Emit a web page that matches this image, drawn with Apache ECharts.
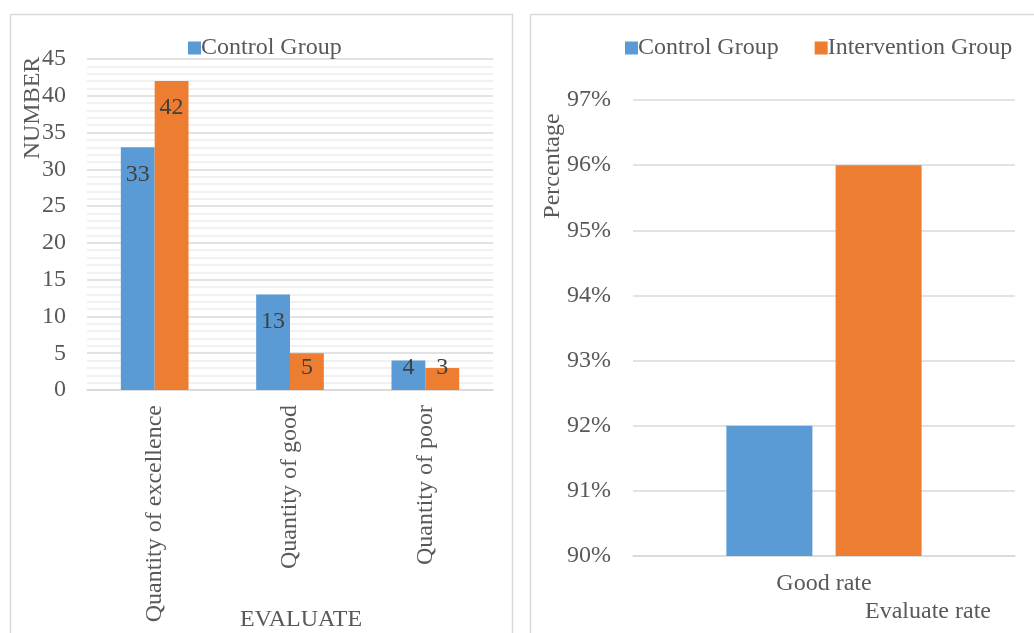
<!DOCTYPE html>
<html>
<head>
<meta charset="utf-8">
<script src="https://cdn.jsdelivr.net/npm/echarts@6/dist/echarts.min.js"></script>
<style>
  html, body { margin: 0; padding: 0; background: #fff; }
  #chart { width: 1034px; height: 633px; }
</style>
</head>
<body>
<div id="chart"></div>
<script>
// left chart data
const categories = ['Quantity of excellence', 'Quantity of good', 'Quantity of poor'];
const controlCounts = [33, 13, 4];
const interventionCounts = [42, 5, 3];
// right chart data
const rateCategories = ['Good rate'];
const controlRate = [92];
const interventionRate = [96];

const FONT = '"Liberation Serif", "Times New Roman", serif';
const FS = 24;
const TXT = '#595959';
const BLUE = '#5b9bd5';
const ORANGE = '#ed7d31';

// small bars get their label near the base, as Excel does
function withLabels(values) {
  return values.map(v => v < 8
    ? { value: v, label: { position: 'insideBottom', distance: 10 } }
    : { value: v });
}

const barLabel = {
  show: true,
  position: 'insideTop',
  distance: 15,
  color: '#404040',
  fontFamily: FONT,
  fontSize: FS
};

const chart = echarts.init(document.getElementById('chart'));

chart.setOption({
  animation: false,
  textStyle: { fontFamily: FONT },
  graphic: [
    { type: 'rect', shape: { x: 10.5, y: 14.5, width: 502, height: 640 },
      style: { fill: 'none', stroke: '#d9d9d9', lineWidth: 1.5 }, z: -10 },
    { type: 'rect', shape: { x: 530.5, y: 14.5, width: 520, height: 640 },
      style: { fill: 'none', stroke: '#d9d9d9', lineWidth: 1.5 }, z: -10 },
    { type: 'text', x: 33, y: 108, rotation: Math.PI / 2,
      style: { text: 'NUMBER', fill: TXT, font: FS + 'px ' + FONT, align: 'center', verticalAlign: 'middle' } },
    { type: 'text', x: 301, y: 620,
      style: { text: 'EVALUATE', fill: TXT, font: FS + 'px ' + FONT, align: 'center', verticalAlign: 'middle' } },
    { type: 'text', x: 553, y: 166, rotation: Math.PI / 2,
      style: { text: 'Percentage', fill: TXT, font: FS + 'px ' + FONT, align: 'center', verticalAlign: 'middle' } },
    { type: 'text', x: 928, y: 612,
      style: { text: 'Evaluate rate', fill: TXT, font: FS + 'px ' + FONT, align: 'center', verticalAlign: 'middle' } }
  ],
  legend: [
    {
      data: ['Control Group'],
      left: 183, top: 31,
      icon: 'rect', itemWidth: 13, itemHeight: 13, itemGap: 36,
      textStyle: { color: TXT, fontFamily: FONT, fontSize: FS, padding: [0, 0, 0, -5] }
    },
    {
      data: ['Control Group', 'Intervention Group'],
      left: 620, top: 31,
      icon: 'rect', itemWidth: 13, itemHeight: 13, itemGap: 36,
      textStyle: { color: TXT, fontFamily: FONT, fontSize: FS, padding: [0, 0, 0, -5] }
    }
  ],
  grid: [
    { left: 87, top: 59, width: 406, height: 331 },
    { left: 633, top: 100, width: 382, height: 456 }
  ],
  xAxis: [
    {
      type: 'category', gridIndex: 0, data: categories,
      axisLine: { lineStyle: { color: '#d9d9d9', width: 1.5 } },
      axisTick: { show: false },
      axisLabel: { rotate: 90, margin: 15, color: TXT, fontFamily: FONT, fontSize: FS, interval: 0 }
    },
    {
      type: 'category', gridIndex: 1, data: rateCategories,
      axisLine: { lineStyle: { color: '#d9d9d9', width: 1.5 } },
      axisTick: { show: false },
      axisLabel: { margin: 16, color: TXT, fontFamily: FONT, fontSize: FS }
    }
  ],
  yAxis: [
    {
      type: 'value', gridIndex: 0, min: 0, max: 45, interval: 5,
      axisLine: { show: false }, axisTick: { show: false },
      axisLabel: { margin: 21, color: TXT, fontFamily: FONT, fontSize: FS },
      splitLine: { lineStyle: { color: '#d9d9d9', width: 1.5 } },
      minorTick: { show: false, splitNumber: 5 },
      minorSplitLine: { show: true, lineStyle: { color: '#ededed', width: 1.5 } }
    },
    {
      type: 'value', gridIndex: 1, min: 90, max: 97, interval: 1,
      axisLine: { show: false }, axisTick: { show: false },
      axisLabel: { margin: 22, color: TXT, fontFamily: FONT, fontSize: FS, formatter: '{value}%' },
      splitLine: { lineStyle: { color: '#d9d9d9', width: 1.5 } }
    }
  ],
  series: [
    {
      name: 'Control Group', type: 'bar', xAxisIndex: 0, yAxisIndex: 0,
      data: withLabels(controlCounts),
      barWidth: '25%', barGap: '0%',
      itemStyle: { color: BLUE },
      label: barLabel
    },
    {
      name: 'Intervention Group', type: 'bar', xAxisIndex: 0, yAxisIndex: 0,
      data: withLabels(interventionCounts),
      barWidth: '25%', barGap: '0%',
      itemStyle: { color: ORANGE },
      label: barLabel
    },
    {
      name: 'Control Group', type: 'bar', xAxisIndex: 1, yAxisIndex: 1,
      data: controlRate,
      barWidth: 86, barGap: '27%',
      itemStyle: { color: BLUE }
    },
    {
      name: 'Intervention Group', type: 'bar', xAxisIndex: 1, yAxisIndex: 1,
      data: interventionRate,
      barWidth: 86, barGap: '27%',
      itemStyle: { color: ORANGE }
    }
  ]
});
</script>
</body>
</html>
